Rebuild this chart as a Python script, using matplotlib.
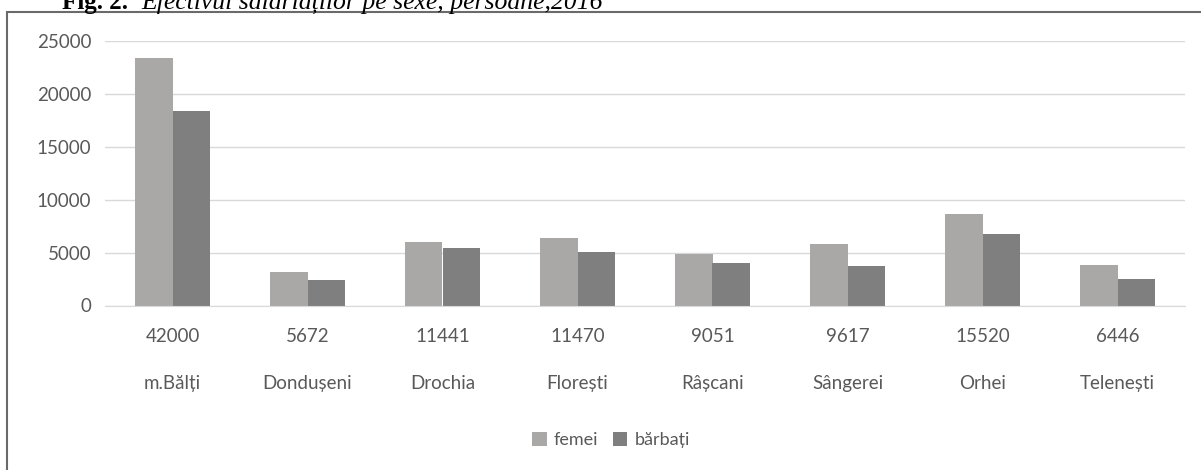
import matplotlib
matplotlib.use('Agg')
import matplotlib.pyplot as plt
from matplotlib.patches import Rectangle
import numpy as np

raioane = ['m.Bălți', 'Dondușeni', 'Drochia', 'Florești', 'Râșcani', 'Sângerei', 'Orhei', 'Telenești']
total = ['42000', '5672', '11441', '11470', '9051', '9617', '15520', '6446']
femei = [23400, 3140, 6020, 6380, 4840, 5800, 8680, 3850]
barbati = [18420, 2370, 5410, 5060, 4040, 3710, 6760, 2500]

gri_text = '#595959'
plt.rcParams['font.family'] = ['Lato', 'DejaVu Sans']

fig = plt.figure(figsize=(12.01, 4.70), dpi=100)
ax = fig.add_axes([105 / 1201, 1 - 305.5 / 470, 1080 / 1201, 264.5 / 470])

x = np.arange(len(raioane))
w = 0.28
ax.bar(x - w / 2, femei, w, color='#aaa7a7', label='femei', zorder=2)
ax.bar(x + w / 2, barbati, w, color='#7f7f7f', label='bărbați', zorder=2)

ax.set_xlim(-0.5, len(raioane) - 0.5)
ax.set_ylim(0, 25000)
ax.set_yticks(range(0, 25001, 5000))
ax.yaxis.grid(True, color='#d9d9d9', linewidth=1, zorder=0)
for s in ['top', 'right', 'left']:
    ax.spines[s].set_visible(False)
ax.spines['bottom'].set_color('#d9d9d9')
ax.tick_params(axis='y', length=0, pad=10, labelsize=13.5, labelcolor=gri_text)

# doua randuri de etichete: totalul si numele raionului
ax.xaxis.remove_overlapping_locs = False
ax.set_xticks(x)
ax.set_xticklabels(total)
ax.set_xticks(x, minor=True)
ax.set_xticklabels(raioane, minor=True)
ax.tick_params(axis='x', which='major', length=0, pad=16, labelsize=13.5, labelcolor=gri_text)
ax.tick_params(axis='x', which='minor', length=0, pad=50, labelsize=13.5, labelcolor=gri_text)

fig.legend(loc='center', bbox_to_anchor=(611 / 1201, 1 - 440 / 470), ncol=2, frameon=False,
           handlelength=0.8, handleheight=0.8, handletextpad=0.4, columnspacing=0.8,
           labelcolor=gri_text, fontsize=13)

# chenarul diagramei
fig.patches.append(Rectangle((7 / 1201, -0.05), 1.2, 1 - 12 / 470 + 0.05, transform=fig.transFigure,
                             fill=False, edgecolor='#6a6a6a', linewidth=1.5))

# titlul, taiat sus ca in original
fig.text(62 / 1201, 1 - 9 / 470, 'Fig. 2.', fontsize=18, family='Liberation Serif',
         fontweight='bold', va='baseline', color='black')
fig.text(141 / 1201, 1 - 9 / 470, 'Efectivul salariaților pe sexe, persoane,2016', fontsize=18.5,
         family='Liberation Serif', style='italic', va='baseline', color='black')

fig.savefig('out.png', dpi=100)
